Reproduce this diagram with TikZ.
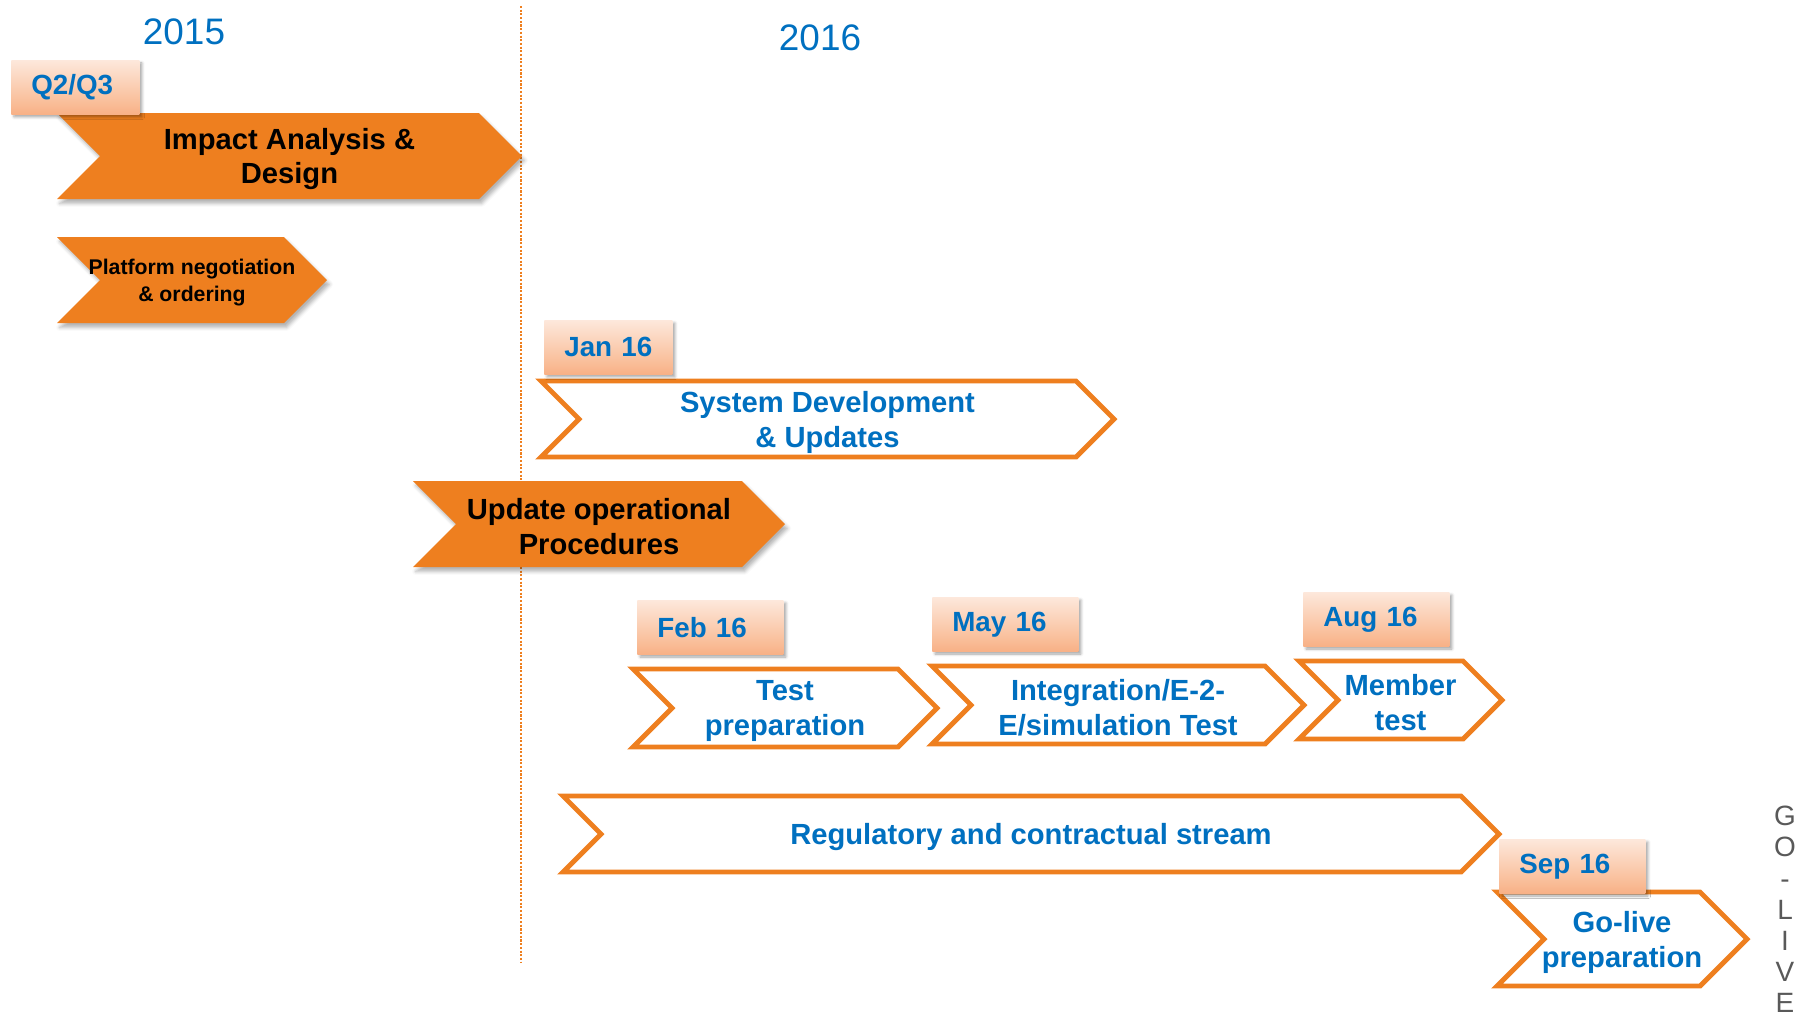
\documentclass[tikz,border=0pt]{standalone}
\usepackage{fontspec}
\setmainfont{Liberation Sans}
\usetikzlibrary{shadows,shadows.blur}

\definecolor{planorange}{HTML}{EE7F1F}
\definecolor{planblue}{HTML}{0070C0}
\definecolor{tabtop}{HTML}{FDE8DB}
\definecolor{tabbot}{HTML}{F8B186}
\definecolor{golivegray}{HTML}{595959}

\tikzset{
  fillchev/.style={fill=planorange,
    blur shadow={shadow xshift=1.5pt, shadow yshift=-2.5pt, shadow blur radius=2pt, shadow opacity=30}},
  linechev/.style={draw=planorange, line width=2.8pt, fill=white},
  blacktext/.style={align=center, inner sep=0pt, yshift=-0.06cm, font=\bfseries\fontsize{16.6}{19.9}\selectfont},
  smalltext/.style={blacktext, font=\bfseries\fontsize{12.1}{15.4}\selectfont},
  bluetext/.style={blacktext, text=planblue},
  datetab/.style={anchor=north west, text width=#1, align=left, inner xsep=0.4cm, inner ysep=0pt,
    minimum height=1.08cm, top color=tabtop, bottom color=tabbot, text=planblue,
    font=\bfseries\fontsize{15.8}{19}\selectfont,
    blur shadow={shadow xshift=1.5pt, shadow yshift=-1.5pt, shadow blur radius=1.5pt, shadow opacity=35}},
  datetab/.default=2.12cm,
  yearlabel/.style={text=planblue, inner sep=0pt, font=\fontsize{21}{25}\selectfont},
  yearsplit/.style={draw=planorange, line width=1pt, dash pattern=on 1.2pt off 0.9pt},
}

% chevron: path style, text style, name, x left, x tip, y middle, half height, text
\newcommand{\chevron}[8]{%
  \path[#1] (#4,{#6-#7}) -- ({#5-#7},{#6-#7}) -- (#5,#6) -- ({#5-#7},{#6+#7})
    -- (#4,{#6+#7}) -- ({#4+#7},#6) -- cycle;
  \node[#2] (#3) at ({(#4+#5)/2},#6) {#8};}

\begin{document}
\begin{tikzpicture}[x=0.02cm, y=-0.02cm]
  \useasboundingbox (0,0) rectangle (1808,1019);

  %% years and the split between them
  \node[yearlabel] (y2015) at (184,32) {2015};
  \node[yearlabel] (y2016) at (820,38) {2016};
  \coordinate (splitTop) at (521,6);
  \coordinate (splitBot) at (521,963);
  \draw[yearsplit] (splitTop) -- (splitBot);

  %% streams
  \chevron{fillchev}{blacktext}{impact}{57}{522}{156}{43}{Impact Analysis \&\\Design}
  \chevron{fillchev}{smalltext}{platform}{57}{327}{280}{43}{Platform negotiation\\\& ordering}
  \chevron{linechev}{bluetext}{sysdev}{541}{1114}{419}{38}{System Development\\\& Updates}
  \chevron{fillchev}{blacktext}{update}{413}{785}{524}{43}{Update operational\\Procedures}
  \chevron{linechev}{bluetext}{testprep}{633}{937}{708}{39}{Test\\preparation}
  \chevron{linechev}{bluetext}{integr}{932}{1304}{705}{39}{Integration/E-2-\\E/simulation Test}
  \chevron{linechev}{bluetext}{member}{1299}{1502}{700}{39}{Member\\test}
  \chevron{linechev}{bluetext}{regul}{563}{1499}{834}{38}{Regulatory and contractual stream}
  \chevron{linechev}{bluetext}{golive}{1497}{1747}{939}{47}{Go-live\\preparation}

  %% date tabs
  \node[datetab=1.76cm] (tabQ) at (11,60) {Q2/Q3};
  \node[datetab=1.76cm] (tabJan) at (544,320) {Jan 16};
  \node[datetab] (tabFeb) at (637,600) {Feb 16};
  \node[datetab] (tabMay) at (932,597) {May 16};
  \node[datetab] (tabAug) at (1303,592) {Aug 16};
  \node[datetab] (tabSep) at (1499,839) {Sep 16};

  %% go-live marker
  \node[anchor=north, align=center, inner sep=0pt, text=golivegray,
    font=\fontsize{15.9}{17.7}\selectfont] (goliveV) at (1785,806) {G\\O\\-\\L\\I\\V\\E};
\end{tikzpicture}
\end{document}
